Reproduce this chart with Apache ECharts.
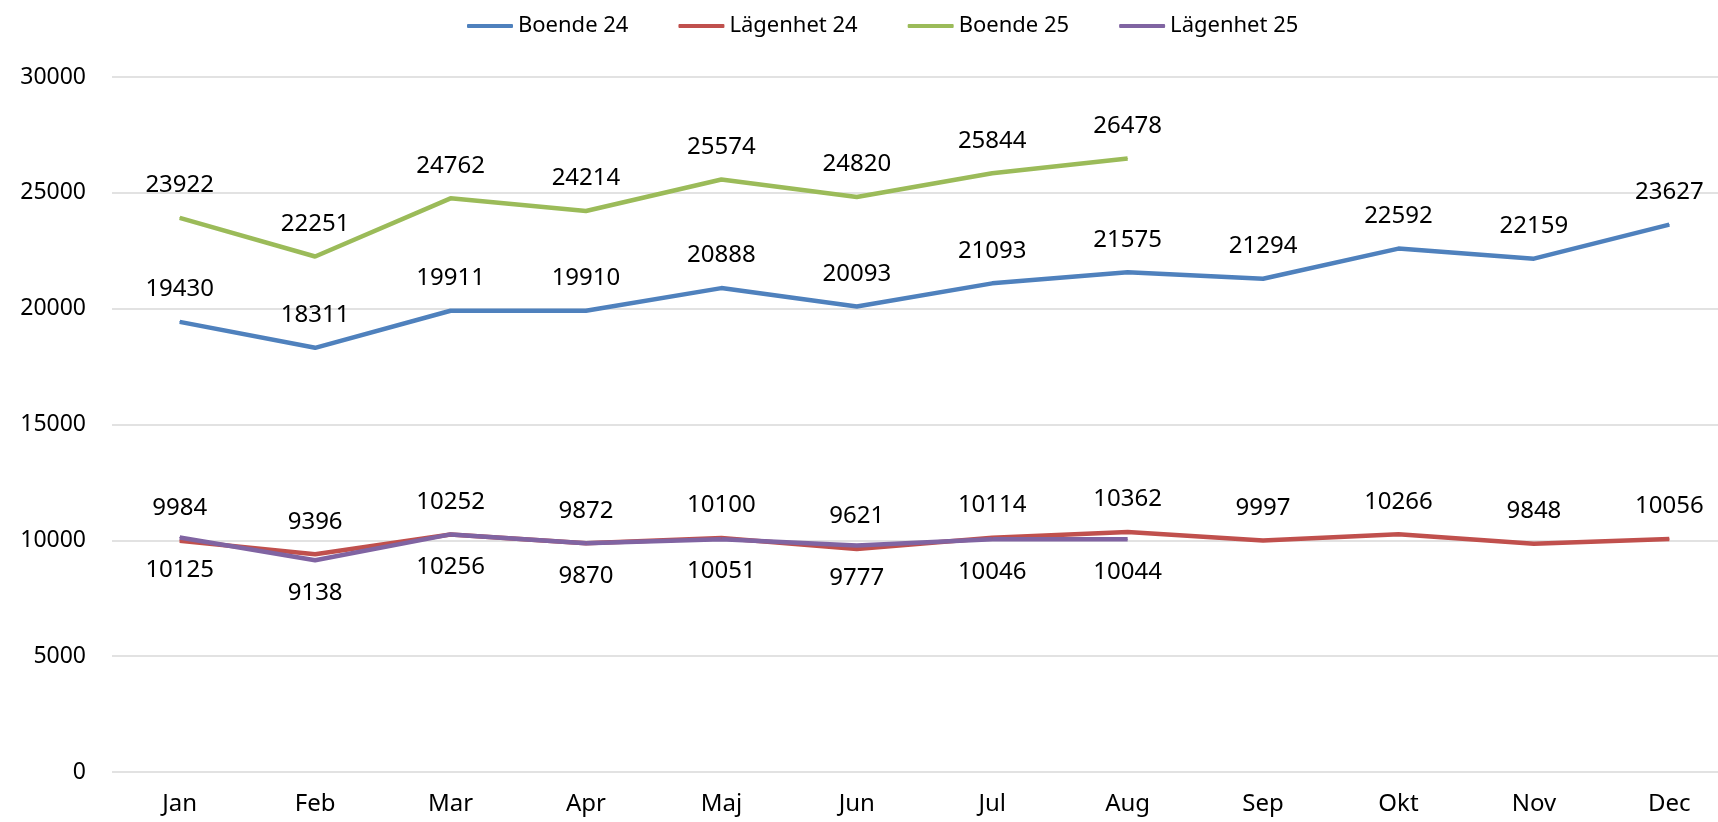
<!DOCTYPE html>
<html>
<head>
<meta charset="utf-8">
<script src="https://cdn.jsdelivr.net/npm/echarts@6/dist/echarts.min.js"></script>
<style>
  html, body { margin: 0; padding: 0; background: #fff; overflow: hidden; }
  /* chart is a bit wider than the window: the last category is cut off on the right, as in the reference */
  #chart { width: 1737px; height: 822px; }
</style>
</head>
<body>
<div id="chart"></div>
<script>
const months = ['Jan', 'Feb', 'Mar', 'Apr', 'Maj', 'Jun', 'Jul', 'Aug', 'Sep', 'Okt', 'Nov', 'Dec'];
const boende24 = [19430, 18311, 19911, 19910, 20888, 20093, 21093, 21575, 21294, 22592, 22159, 23627];
const lagenhet24 = [9984, 9396, 10252, 9872, 10100, 9621, 10114, 10362, 9997, 10266, 9848, 10056];
const boende25 = [23922, 22251, 24762, 24214, 25574, 24820, 25844, 26478];
const lagenhet25 = [10125, 9138, 10256, 9870, 10051, 9777, 10046, 10044];

const font = 'Noto Sans';

function lineSeries(name, data, color, pos) {
  return {
    name: name,
    type: 'line',
    data: data,
    symbol: 'circle',
    symbolSize: 1,
    showSymbol: true,
    lineStyle: { width: 4.5, color: color },
    itemStyle: { color: color },
    label: {
      show: true,
      position: pos,
      distance: 20,
      color: '#000',
      fontSize: 24,
      fontFamily: font
    }
  };
}

const chart = echarts.init(document.getElementById('chart'));
chart.setOption({
  animation: false,
  legend: {
    top: 10,
    left: 462,
    itemWidth: 46,
    itemHeight: 4,
    itemGap: 50,
    icon: 'roundRect',
    textStyle: { fontSize: 22, fontFamily: font, color: '#000' },
    data: ['Boende 24', 'Lägenhet 24', 'Boende 25', 'Lägenhet 25']
  },
  grid: { left: 112, right: 0, top: 77, bottom: 50 },
  xAxis: {
    type: 'category',
    data: months,
    boundaryGap: true,
    axisLine: { show: false },
    axisTick: { show: false },
    axisLabel: { fontSize: 24, fontFamily: font, color: '#000', margin: 20 }
  },
  yAxis: {
    type: 'value',
    min: 0,
    max: 30000,
    interval: 5000,
    axisLine: { show: false },
    axisTick: { show: false },
    splitLine: { lineStyle: { color: '#d9d9d9', width: 1.5 } },
    axisLabel: {
      fontSize: 23,
      fontFamily: font,
      color: '#000',
      margin: 26,
      formatter: v => String(v)
    }
  },
  series: [
    lineSeries('Boende 24', boende24, '#4f81bd', 'top'),
    lineSeries('Lägenhet 24', lagenhet24, '#c0504d', 'top'),
    lineSeries('Boende 25', boende25, '#9bbb59', 'top'),
    lineSeries('Lägenhet 25', lagenhet25, '#8064a2', 'bottom')
  ]
});
</script>
</body>
</html>
